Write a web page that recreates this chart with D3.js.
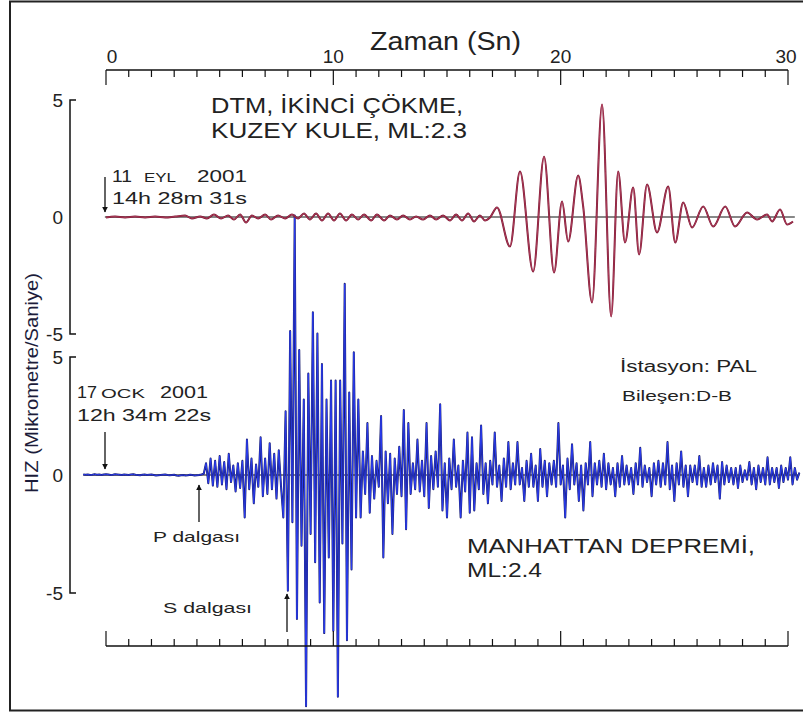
<!DOCTYPE html>
<html><head><meta charset="utf-8">
<script src="https://cdn.jsdelivr.net/npm/d3@7"></script>
<style>body{margin:0;background:#fff}svg{display:block}text{font-family:"Liberation Sans",Arial,sans-serif;fill:#222}</style>
</head><body><svg id="c" width="803" height="717"></svg>
<script>
// ---- DATA ----
const xTickValues = [0,1,2,3,4,5,6,7,8,9,10,11,12,13,14,15,16,17,18,19,20,21,22,23,24,25,26,27,28,29,30];
const xTickLabels = ["0","10","20","30"];
const yTickLabels = ["5","0","-5"];
// Top trace: DTM (WTC) second collapse, North tower  (time s, velocity µm/s)
const topTimes = [0.00,0.40,0.84,1.28,1.72,2.16,2.60,3.04,3.48,3.78,4.14,4.44,4.75,5.06,5.37,5.63,5.90,6.16,6.42,6.69,7.00,7.26,7.57,7.88,8.18,8.45,8.71,8.97,9.24,9.50,9.77,10.03,10.29,10.56,10.82,11.09,11.35,11.66,11.92,12.23,12.49,12.80,13.07,13.37,13.64,13.95,14.25,14.52,14.83,15.13,15.40,15.66,15.93,16.19,16.45,16.67,16.89,17.20,17.77,18.21,18.79,19.27,19.71,20.06,20.33,20.77,20.99,21.38,21.82,22.22,22.53,22.83,23.19,23.45,23.80,24.24,24.73,25.04,25.39,25.78,26.27,26.71,27.24,27.67,28.20,28.64,29.08,29.30,29.65,29.96,30.22];
const topValues = [-0.02,0.02,-0.02,0.02,-0.02,0.02,-0.02,0.02,0.06,-0.06,0.02,-0.06,0.11,-0.06,0.06,-0.11,0.11,-0.24,0.06,-0.06,0.11,-0.11,0.06,-0.06,0.11,-0.06,0.15,-0.11,0.15,-0.15,0.15,-0.15,0.15,-0.15,0.11,-0.11,0.11,-0.15,0.11,-0.15,0.06,-0.11,0.06,-0.11,0.02,-0.11,0.06,-0.11,0.06,-0.15,0.11,-0.15,0.15,-0.19,0.06,-0.15,-0.02,0.41,-1.26,1.94,-2.33,2.58,-2.37,0.66,-1.05,1.77,0.45,-3.65,4.81,-4.25,1.94,-1.09,1.26,-1.60,1.39,-0.66,1.30,-1.09,0.62,-0.45,0.45,-0.41,0.45,-0.41,0.19,-0.11,0.11,-0.19,0.32,-0.32,-0.19];
// Bottom trace: Manhattan earthquake, sampled every 0.1 s from t = -1.0 s
const bottomStart = -1.0;
const bottomStep = 0.1;
const bottomValues = [
 0.02,0.01,0.02,0.00,0.01,0.03,0.01,0.02,0.00,0.02,
 0.03,0.02,0.00,0.01,0.03,0.02,0.01,0.00,0.02,0.01,
 0.00,0.02,0.03,0.01,0.00,-0.01,0.01,0.02,0.00,0.01,
 0.02,0.00,-0.02,-0.01,0.00,0.01,0.02,0.00,-0.01,0.00,
 0.01,-0.02,-0.03,-0.01,0.00,-0.02,-0.01,0.01,0.00,-0.02,
 -0.01,0.00,0.02,0.05,0.50,-0.35,0.70,-0.45,0.60,-0.50,
 0.80,-0.40,0.55,-0.60,0.90,-0.30,0.40,-0.70,0.50,-0.55,
 0.60,-1.80,1.50,-0.60,0.70,-1.20,0.45,-0.50,1.60,-0.90,
 0.70,-0.80,1.35,-0.60,0.90,-1.00,1.05,-0.50,-1.80,2.70,
 -4.9,6.1,-2.0,11.0,-6.1,5.3,-3.0,3.2,-9.8,4.3,
 -2.5,6.9,-3.7,6.0,-5.4,4.7,-6.7,3.2,-3.5,4.0,
 -6.6,4.0,-9.4,4.0,-2.9,8.1,-7.0,3.5,-4.0,5.2,
 -1.8,3.2,-1.8,1.0,-0.8,2.2,-1.6,0.8,-1.0,0.6,
 -0.5,2.5,-3.5,1.0,-1.2,0.9,-2.5,0.7,-0.8,1.2,
 -0.9,2.75,-2.3,2.2,-0.8,0.5,-0.6,1.5,-0.7,0.6,
 -0.9,2.2,-1.4,0.8,-0.6,1.0,-0.5,3.0,-1.5,0.5,
 -1.8,0.7,-0.6,1.5,-0.5,0.4,-1.8,0.6,-0.7,1.8,
 -1.6,1.6,-1.5,0.5,-0.6,2.1,-0.8,0.5,-1.2,0.6,
 -0.4,1.8,-0.5,0.4,-1.1,0.7,-0.5,1.4,-0.6,0.5,
 -0.4,1.4,-0.4,0.3,-1.1,0.6,-0.5,0.9,-0.5,0.4,
 -1.1,1.1,-0.5,0.6,-0.9,0.5,-0.4,0.6,-0.5,2.2,
 -0.4,0.4,-1.8,0.7,-0.6,1.3,-0.4,0.5,-1.1,0.4,
 -1.5,0.5,-0.4,1.4,-0.9,0.5,-0.4,0.6,-0.5,0.9,
 -0.6,0.5,-0.4,0.3,-0.9,0.5,-0.5,0.8,-0.4,0.4,
 -0.4,0.3,-0.8,0.5,-0.4,1.15,-0.5,0.4,-0.3,0.3,
 -0.9,0.5,-0.4,0.6,-0.5,0.5,-0.4,1.4,-0.6,0.4,
 -1.1,0.5,-0.4,1.0,-0.5,0.4,-0.9,0.4,-0.3,0.4,
 -0.4,0.8,-0.5,0.3,-0.5,0.4,-0.4,0.5,-0.3,0.4,
 -1.0,0.55,-0.4,0.4,-0.3,0.3,-0.4,0.3,-0.55,0.4,
 -0.3,0.2,-0.2,0.55,-0.4,0.3,-0.6,0.4,-0.3,0.3,
 -0.4,0.75,-0.4,0.3,-0.3,0.3,-0.55,0.4,-0.3,0.3,
 -0.2,0.75,-0.4,0.3,-0.2,0.1
];

// ---- CHART ----
const svg = d3.select("#c");
const x = d3.scaleLinear().domain([0,30]).range([106,788]);
const yTop = d3.scaleLinear().domain([-5,5]).range([334,100]);
const yBot = d3.scaleLinear().domain([-5,5]).range([593,357]);

// frame
svg.append("rect").attr("x",10).attr("y",1.5).attr("width",800).attr("height",709)
  .attr("fill","none").attr("stroke","#222").attr("stroke-width",2);

// zero lines
svg.append("line").attr("x1",x(-0.05)).attr("x2",x(30.3)).attr("y1",yTop(0)).attr("y2",yTop(0)).attr("stroke","#111").attr("stroke-width",1);
svg.append("line").attr("x1",x(-1)).attr("x2",x(30.5)).attr("y1",yBot(0)).attr("y2",yBot(0)).attr("stroke","#111").attr("stroke-width",1);

// bottom trace (dark outline + blue core)
const botData = bottomValues.map((v,i)=>({t: bottomStart + i*bottomStep, v}));
const botLine = d3.line().x(d=>x(d.t)).y(d=>yBot(d.v));
svg.append("path").datum(botData).attr("d", botLine)
  .attr("fill","none").attr("stroke","#1b1f6e").attr("stroke-width",2.0).attr("stroke-linejoin","round");
svg.append("path").datum(botData).attr("d", botLine)
  .attr("fill","none").attr("stroke","#2a3cf0").attr("stroke-width",1.0).attr("stroke-linejoin","round");

// top trace
const topData = topTimes.map((t,i)=>({t, v: topValues[i]}));
const topLine = d3.line().curve(d3.curveMonotoneX).x(d=>x(d.t)).y(d=>yTop(d.v));
svg.append("path").datum(topData).attr("d", topLine)
  .attr("fill","none").attr("stroke","#7a1530").attr("stroke-width",2.0);
svg.append("path").datum(topData).attr("d", topLine)
  .attr("fill","none").attr("stroke","#c24a6a").attr("stroke-width",0.7);

// time axes
const topAxisY = 70, botAxisY = 646;
svg.append("line").attr("x1",x(0)).attr("x2",x(30)).attr("y1",topAxisY).attr("y2",topAxisY).attr("stroke","#111").attr("stroke-width",1.5);
svg.append("line").attr("x1",x(0)).attr("x2",x(30)).attr("y1",botAxisY).attr("y2",botAxisY).attr("stroke","#111").attr("stroke-width",1.5);
xTickValues.forEach(t=>{
  const major = t % 10 === 0;
  svg.append("line").attr("x1",x(t)).attr("x2",x(t)).attr("y1",topAxisY).attr("y2",topAxisY + (major?15:7)).attr("stroke","#111").attr("stroke-width",1.2);
  svg.append("line").attr("x1",x(t)).attr("x2",x(t)).attr("y1",botAxisY).attr("y2",botAxisY - (major?15:7)).attr("stroke","#111").attr("stroke-width",1.2);
});
xTickLabels.forEach((lab,i)=>{
  const t = i*10;
  svg.append("text").attr("x", x(t) + (i===0?6:(i===3?-2:0))).attr("y",63).attr("text-anchor","middle")
    .attr("font-size",19).text(lab);
});
svg.append("text").attr("x",370).attr("y",50).attr("font-size",25)
  .attr("textLength",151).attr("lengthAdjust","spacingAndGlyphs").text("Zaman (Sn)");

// y axes (bracket style)
[yTop,yBot].forEach(ys=>{
  const p = d3.path();
  p.moveTo(76, ys(5)); p.lineTo(70, ys(5)); p.lineTo(70, ys(-5)); p.lineTo(76, ys(-5));
  svg.append("path").attr("d",p.toString()).attr("fill","none").attr("stroke","#111").attr("stroke-width",1.5);
  [5,0,-5].forEach((v,i)=>{
    svg.append("text").attr("x",63).attr("y",ys(v)).attr("dy","0.35em").attr("text-anchor","end")
      .attr("font-size",19).text(yTickLabels[i]);
  });
});
svg.append("text").attr("transform","translate(38,383) rotate(-90)").attr("text-anchor","middle")
  .attr("font-size",19).attr("textLength",220).attr("lengthAdjust","spacingAndGlyphs")
  .style("fill","#1c1c3a").text("HIZ (Mikrometre/Saniye)");

// arrows
const defs = svg.append("defs");
defs.append("marker").attr("id","ah").attr("viewBox","0 0 10 10").attr("refX",9).attr("refY",5)
  .attr("markerWidth",6).attr("markerHeight",8).attr("markerUnits","userSpaceOnUse").attr("orient","auto")
  .append("path").attr("d","M0,0 L10,5 L0,10 Z").attr("fill","#111");
function arrow(x0,y0,y1){
  svg.append("line").attr("x1",x0).attr("x2",x0).attr("y1",y0).attr("y2",y1)
    .attr("stroke","#111").attr("stroke-width",1.3).attr("marker-end","url(#ah)");
}
arrow(x(0)-1,177,212);
arrow(x(0)-1,432,469);
arrow(199,522,485);
arrow(287,632,594);

// annotation texts
function txt(s,xp,yp,fs,tl){
  const t = svg.append("text").attr("x",xp).attr("y",yp).attr("font-size",fs).text(s);
  if(tl) t.attr("textLength",tl).attr("lengthAdjust","spacingAndGlyphs");
  return t;
}
txt("DTM, İKİNCİ ÇÖKME,",211,113,22,252);
txt("KUZEY KULE, ML:2.3",211,138,22,256);
txt("11",112,182,17,20);
txt("EYL",144,182,13,32);
txt("2001",197,182,17,50);
txt("14h 28m 31s",112,204,17,135);
txt("17",77,398,17,20);
txt("OCK",101,398,13,44);
txt("2001",160,398,17,48);
txt("12h 34m 22s",77,421,17,134);
txt("İstasyon: PAL",620,372,16,137);
txt("Bileşen:D-B",622,401,14,110);
txt("P dalgası",153,542,15,87);
txt("S dalgası",163,613,15,89);
txt("MANHATTAN DEPREMİ,",467,553,20,288);
txt("ML:2.4",467,577,20,75);
</script></body></html>
